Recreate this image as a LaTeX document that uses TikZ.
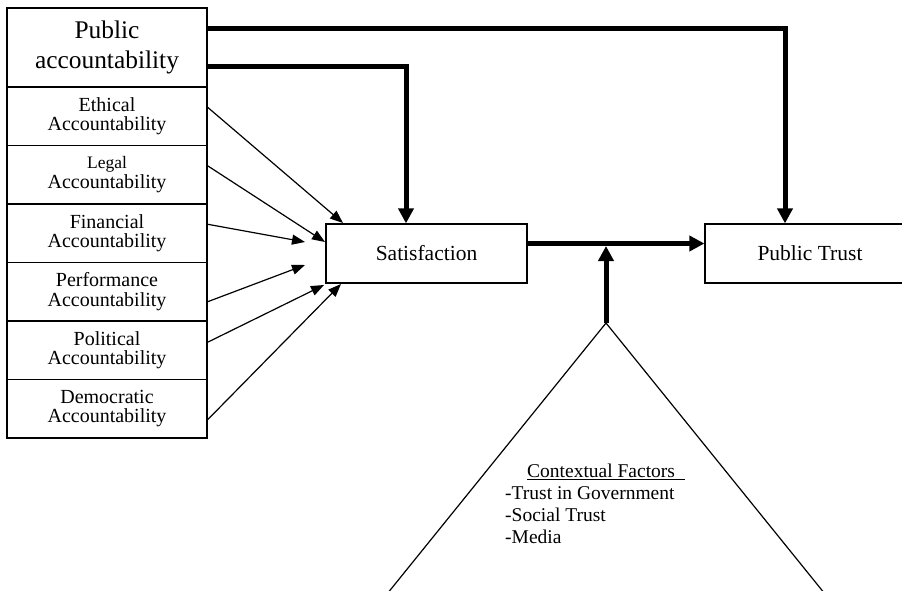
\documentclass[tikz,border=0pt]{standalone}
\usepackage{fontspec}
\setmainfont{Liberation Serif}
\usetikzlibrary{arrows.meta}

\begin{document}
\begin{tikzpicture}[
    x=1pt, y=-1pt,
    box/.style={rectangle, draw, line width=1.2pt, inner sep=0pt, minimum width=200pt, minimum height=58.5pt, align=center, font=\fontsize{20}{19.5}\selectfont},
    link/.style={-{Triangle[length=13pt,width=10pt]}, line width=1.2pt},
    bold/.style={-{Triangle[length=15pt,width=15pt]}, line width=5pt},
]
    \path[use as bounding box, clip] (0,0) rectangle (902,590);

    % Accountability column
    \node[box, minimum height=79pt, font=\fontsize{25.4}{30.5}\selectfont] (pub) at (107,47.5) {Public\\accountability};
    \node[box] (eth) at (107,116.25) {Ethical\\Accountability};
    \node[box] (leg) at (107,174.75) {{\fontsize{17.5}{17.5}\selectfont Legal}\\Accountability};
    \node[box] (fin) at (107,233.25) {Financial\\Accountability};
    \node[box] (per) at (107,291.75) {Performance\\Accountability};
    \node[box] (pol) at (107,350.25) {Political\\Accountability};
    \node[box] (dem) at (107,408.75) {Democratic\\Accountability};

    % Outcomes
    \node[box, minimum width=201pt, minimum height=59pt, font=\fontsize{21.5}{22}\selectfont] (sat) at (426.5,253.5) {Satisfaction};
    \node[box, minimum width=210pt, minimum height=59pt, font=\fontsize{21.5}{22}\selectfont] (trust) at (810,253.5) {Public Trust};

    % Free ends of the thin arrows
    \coordinate (ethE) at (343,223);
    \coordinate (legE) at (325,242);
    \coordinate (finE) at (305,242);
    \coordinate (perE) at (305,265);
    \coordinate (polE) at (324,285);
    \coordinate (demE) at (341,284);

    \draw[link] ([yshift=9pt]eth.east) -- (ethE);
    \draw[link] ([yshift=9pt]leg.east) -- (legE);
    \draw[link] ([yshift=9pt]fin.east) -- (finE);
    \draw[link] ([yshift=-10pt]per.east) -- (perE);
    \draw[link] ([yshift=8pt]pol.east) -- (polE);
    \draw[link] ([yshift=-11pt]dem.east) -- (demE);

    % Direct paths
    \draw[bold] ([yshift=19.5pt]pub.east) -| ([xshift=-25pt]trust.north);
    \draw[bold] ([yshift=-18.5pt]pub.east) -| ([xshift=-20.5pt]sat.north);
    \draw[bold] ([yshift=10pt]sat.east) -- ([yshift=10pt]trust.west);

    % Contextual factors
    \coordinate (apex) at (606,323);
    \coordinate (meet) at (606,246);
    \draw[line width=1.2pt] (366,620) -- (apex) -- (846,620);
    \draw[bold] (apex) -- (meet);
    \node[anchor=north west, inner sep=0pt, align=left, font=\fontsize{19.5}{22}\selectfont] (ctx) at (505,464)
        {\hspace*{22pt}\underline{Contextual Factors\ \ }\\-Trust in Government\\-Social Trust\\-Media};
\end{tikzpicture}
\end{document}
